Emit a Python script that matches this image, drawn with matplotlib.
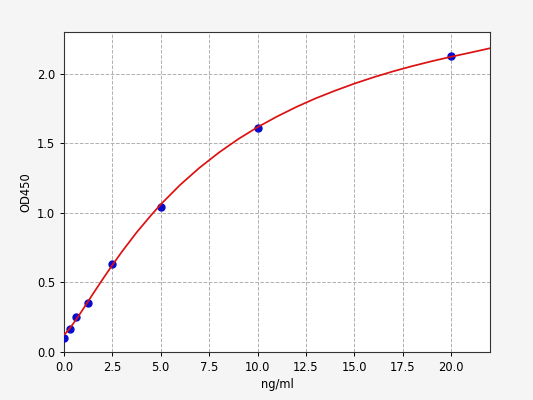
import matplotlib
matplotlib.use("Agg")
import matplotlib.pyplot as plt

# standards (ng/ml) and measured OD450
conc = [0, 0.3125, 0.625, 1.25, 2.5, 5, 10, 20]
od = [0.10, 0.163, 0.254, 0.354, 0.633, 1.04, 1.61, 2.13]

# fitted curve
curve_x = [0, 0.1, 0.25, 0.5, 0.75, 1, 1.5, 2, 2.5, 3, 3.75, 4.5, 5, 6, 7,
           8, 9, 10, 11, 12, 13, 14, 15, 16, 17, 18, 19, 20, 21, 22]
curve_y = [0.125, 0.137, 0.161, 0.208, 0.258, 0.311, 0.418, 0.523, 0.625,
           0.722, 0.859, 0.983, 1.061, 1.201, 1.324, 1.433, 1.530, 1.616,
           1.692, 1.761, 1.823, 1.878, 1.929, 1.975, 2.017, 2.055, 2.090,
           2.122, 2.152, 2.183]

fs = 8.3
fig = plt.figure(figsize=(5.33, 4.0), dpi=100, facecolor='#f5f5f5')
ax = fig.add_axes([0.12, 0.12, 0.799, 0.80])

ax.plot(conc, od, 'o', color='#0a0acd', markersize=5, zorder=3)
ax.plot(curve_x, curve_y, '-', color='#dd1111', linewidth=1.25, zorder=4)

ax.set_xlim(0, 22)
ax.set_ylim(0, 2.3)
ax.set_xticks([0, 2.5, 5, 7.5, 10, 12.5, 15, 17.5, 20])
ax.set_yticks([0, 0.5, 1.0, 1.5, 2.0])
ax.tick_params(labelsize=fs, length=2.9, width=0.7)
ax.grid(True, linestyle='--', color='#b0b0b0', linewidth=0.7)
for s in ax.spines.values():
    s.set_linewidth(0.8)
    s.set_color('#333333')
ax.set_xlabel('ng/ml', fontsize=fs, labelpad=3)
ax.set_ylabel('OD450', fontsize=fs, labelpad=3)

plt.savefig('out.png', dpi=100, facecolor=fig.get_facecolor())
